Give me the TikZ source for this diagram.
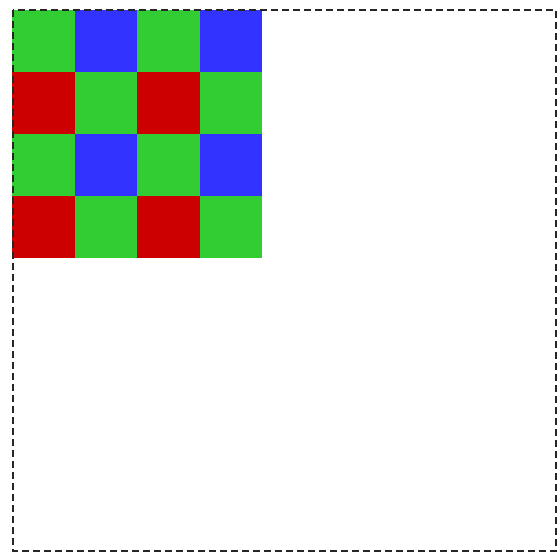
\documentclass[tikz,border=0pt]{standalone}
\definecolor{bayergreen}{RGB}{50,205,50}
\definecolor{bayerblue}{RGB}{51,51,255}
\definecolor{bayerred}{RGB}{204,0,0}
\begin{document}
\begin{tikzpicture}[x=1pt,y=-1pt,
  cell/.style={draw=none,minimum width=62.5pt,minimum height=62pt,inner sep=0pt,outer sep=0pt,anchor=north west},
  G/.style={cell,fill=bayergreen},
  B/.style={cell,fill=bayerblue},
  R/.style={cell,fill=bayerred},
  frame/.style={draw=black!85,line width=2pt,dash pattern=on 7pt off 4pt}]
\useasboundingbox (0,0) rectangle (559,553);
\foreach \r/\a/\b in {0/G/B,1/R/G,2/G/B,3/R/G}{
  \foreach \c in {0,1,2,3}{
    \pgfmathsetmacro{\xx}{12+62.5*\c}
    \pgfmathsetmacro{\yy}{10+62*\r}
    \ifodd\c
      \node[\b] (c\r\c) at (\xx,\yy) {};
    \else
      \node[\a] (c\r\c) at (\xx,\yy) {};
    \fi
  }
}
\draw[frame] (13,10) rectangle (556,551);
\end{tikzpicture}
\end{document}
